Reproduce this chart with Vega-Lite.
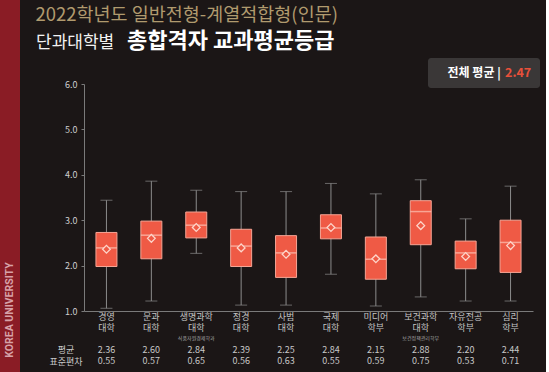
{
  "$schema": "https://vega.github.io/schema/vega-lite/v6.json",
  "background": "#1b1616",
  "padding": {"left": 0, "top": 0, "right": 6, "bottom": 0},
  "config": {
    "font": "Noto Sans CJK KR",
    "view": {"stroke": null},
    "concat": {"spacing": 0}
  },
  "datasets": {
    "colleges": [
      {"college": "경영 대학", "min": 1.06, "q1": 1.98, "median": 2.39, "q3": 2.73, "max": 3.44, "평균": 2.36, "표준편차": 0.55, "note": ""},
      {"college": "문과 대학", "min": 1.22, "q1": 2.15, "median": 2.67, "q3": 2.98, "max": 3.86, "평균": 2.60, "표준편차": 0.57, "note": ""},
      {"college": "생명과학 대학", "min": 2.27, "q1": 2.61, "median": 2.89, "q3": 3.18, "max": 3.66, "평균": 2.84, "표준편차": 0.65, "note": "식품자원경제학과"},
      {"college": "정경 대학", "min": 1.13, "q1": 1.98, "median": 2.43, "q3": 2.80, "max": 3.63, "평균": 2.39, "표준편차": 0.56, "note": ""},
      {"college": "사범 대학", "min": 1.13, "q1": 1.74, "median": 2.28, "q3": 2.66, "max": 3.63, "평균": 2.25, "표준편차": 0.63, "note": ""},
      {"college": "국제 대학", "min": 1.81, "q1": 2.59, "median": 2.83, "q3": 3.12, "max": 3.81, "평균": 2.84, "표준편차": 0.55, "note": ""},
      {"college": "미디어 학부", "min": 1.11, "q1": 1.70, "median": 2.14, "q3": 2.63, "max": 3.58, "평균": 2.15, "표준편차": 0.59, "note": ""},
      {"college": "보건과학 대학", "min": 1.31, "q1": 2.46, "median": 3.19, "q3": 3.43, "max": 3.89, "평균": 2.88, "표준편차": 0.75, "note": "보건정책관리학부"},
      {"college": "자유전공 학부", "min": 1.22, "q1": 1.93, "median": 2.28, "q3": 2.54, "max": 3.03, "평균": 2.20, "표준편차": 0.53, "note": ""},
      {"college": "심리 학부", "min": 1.22, "q1": 1.85, "median": 2.51, "q3": 3.00, "max": 3.75, "평균": 2.44, "표준편차": 0.71, "note": ""}
    ],
    "headline": [
      {"row": "1", "part": "a", "line": "2022학년도 일반전형-계열적합형(인문)"},
      {"row": "2", "part": "a", "line": "단과대학별"},
      {"row": "2", "part": "b", "line": "총합격자 교과평균등급"}
    ]
  },
  "spacing": 15,
  "hconcat": [
    {
      "width": 20,
      "height": 372,
      "view": {"fill": "#8a1c25", "stroke": null},
      "data": {"values": [{"brand": "KOREA UNIVERSITY"}]},
      "mark": {"type": "text", "angle": 270, "dx": -124, "fontSize": 10.5, "fontWeight": "bold", "font": "Roboto", "color": "#d7a1a8"},
      "encoding": {"text": {"field": "brand", "type": "nominal"}}
    },
    {
      "spacing": 1,
      "vconcat": [
        {
          "width": 1,
          "height": 79,
          "data": {"name": "headline"},
          "encoding": {
            "y": {"field": "row", "type": "nominal", "axis": null,
              "scale": {"type": "point", "domain": ["1", "2"], "padding": 1.019, "align": 0.4057}},
            "text": {"field": "line", "type": "nominal"}
          },
          "layer": [
            {
              "transform": [{"filter": "datum.row == '1'"}],
              "mark": {"type": "text", "align": "left", "baseline": "alphabetic", "dx": -49, "fontSize": 18.5, "fontWeight": "normal", "color": "#b09a6e"}
            },
            {
              "transform": [{"filter": "datum.row == '2' && datum.part == 'a'"}],
              "mark": {"type": "text", "align": "left", "baseline": "alphabetic", "dx": -48.5, "fontSize": 17, "fontWeight": "normal", "color": "#f2f2f2"}
            },
            {
              "transform": [{"filter": "datum.row == '2' && datum.part == 'b'"}],
              "mark": {"type": "text", "align": "left", "baseline": "alphabetic", "dx": 42.5, "fontSize": 22, "fontWeight": "bold", "color": "#ffffff"}
            }
          ]
        },
        {
          "width": 449,
          "height": 227,
          "data": {"name": "colleges"},
          "encoding": {
            "x": {
              "field": "college", "type": "nominal", "sort": null, "title": null,
              "axis": {"labelExpr": "split(datum.value, ' ')", "labelAngle": 0, "ticks": false, "domainColor": "#7a7a7a", "labelColor": "#c4c4c4", "labelFontSize": 9, "labelLineHeight": 11.5, "labelPadding": 1}
            }
          },
          "layer": [
            {
              "mark": {"type": "rule", "color": "#8c8c8c", "strokeWidth": 1},
              "encoding": {
                "y": {"field": "min", "type": "quantitative", "title": null,
                  "scale": {"domain": [1, 6], "nice": false, "zero": false},
                  "axis": {"values": [1, 1.5, 2, 2.5, 3, 3.5, 4, 4.5, 5, 5.5, 6], "format": ".1f", "grid": false, "domainColor": "#7a7a7a", "tickColor": "#7a7a7a", "tickSize": 3, "labelColor": "#cfcfcf", "labelFontSize": 9, "labelPadding": 4, "minExtent": 49, "maxExtent": 49}},
                "y2": {"field": "max"}
              }
            },
            {
              "mark": {"type": "tick", "color": "#8c8c8c", "size": 12, "thickness": 1},
              "encoding": {"y": {"field": "max", "type": "quantitative", "title": null}}
            },
            {
              "mark": {"type": "tick", "color": "#8c8c8c", "size": 12, "thickness": 1},
              "encoding": {"y": {"field": "min", "type": "quantitative", "title": null}}
            },
            {
              "mark": {"type": "bar", "size": 21, "stroke": "#f6a595", "strokeWidth": 1},
              "encoding": {
                "y": {"field": "q1", "type": "quantitative", "title": null},
                "y2": {"field": "q3"},
                "color": {
                  "datum": "2.47", "type": "nominal",
                  "scale": {"range": ["#ef5a45"]},
                  "legend": {
                    "title": "\u3164전체 평균 |",
                    "orient": "none", "legendX": 428, "legendY": 58,
                    "titleOrient": "left", "titleColor": "#ffffff", "titleFontSize": 12, "titleFontWeight": "bold", "titlePadding": 0,
                    "labelColor": "#e8503a", "labelFontSize": 12.5, "labelFontWeight": "bold", "labelOffset": -9,
                    "symbolSize": 0, "symbolOpacity": 0, "symbolStrokeWidth": 0,
                    "fillColor": "#3a3737", "cornerRadius": 3, "padding": 8.5
                  }
                }
              }
            },
            {
              "mark": {"type": "tick", "color": "#fcc4b6", "size": 21, "thickness": 1.5},
              "encoding": {"y": {"field": "median", "type": "quantitative", "title": null}}
            },
            {
              "mark": {"type": "point", "shape": "diamond", "size": 60, "filled": true, "color": "#ef5a45", "stroke": "#fdd5ca", "strokeWidth": 1.3, "opacity": 1},
              "encoding": {"y": {"field": "평균", "type": "quantitative", "title": null}}
            }
          ]
        },
        {
          "width": 449,
          "height": 23,
          "data": {"name": "colleges"},
          "encoding": {
            "x": {"field": "college", "type": "nominal", "sort": null, "axis": null}
          },
          "layer": [
            {
              "transform": [{"fold": ["평균", "표준편차"], "as": ["stat", "val"]}],
              "mark": {"type": "text", "fontSize": 9, "color": "#c8c8c8"},
              "encoding": {
                "y": {"field": "stat", "type": "nominal", "title": null,
                  "scale": {"type": "point", "domain": ["비고", "평균", "표준편차"], "padding": 0},
                  "axis": {"labelExpr": "datum.value == '비고' ? '' : datum.value", "labelAlign": "center", "labelBaseline": "middle", "labelPadding": 18.5, "ticks": false, "tickSize": 0, "domain": false, "labelColor": "#c8c8c8", "labelFontSize": 9, "minExtent": 49, "maxExtent": 49}},
                "text": {"field": "val", "type": "quantitative", "format": ".2f"}
              }
            },
            {
              "transform": [{"filter": "datum.note != ''"}],
              "mark": {"type": "text", "fontSize": 5, "color": "#a8a8a8"},
              "encoding": {
                "y": {"datum": "비고", "type": "nominal"},
                "text": {"field": "note", "type": "nominal"}
              }
            }
          ]
        }
      ]
    }
  ]
}
